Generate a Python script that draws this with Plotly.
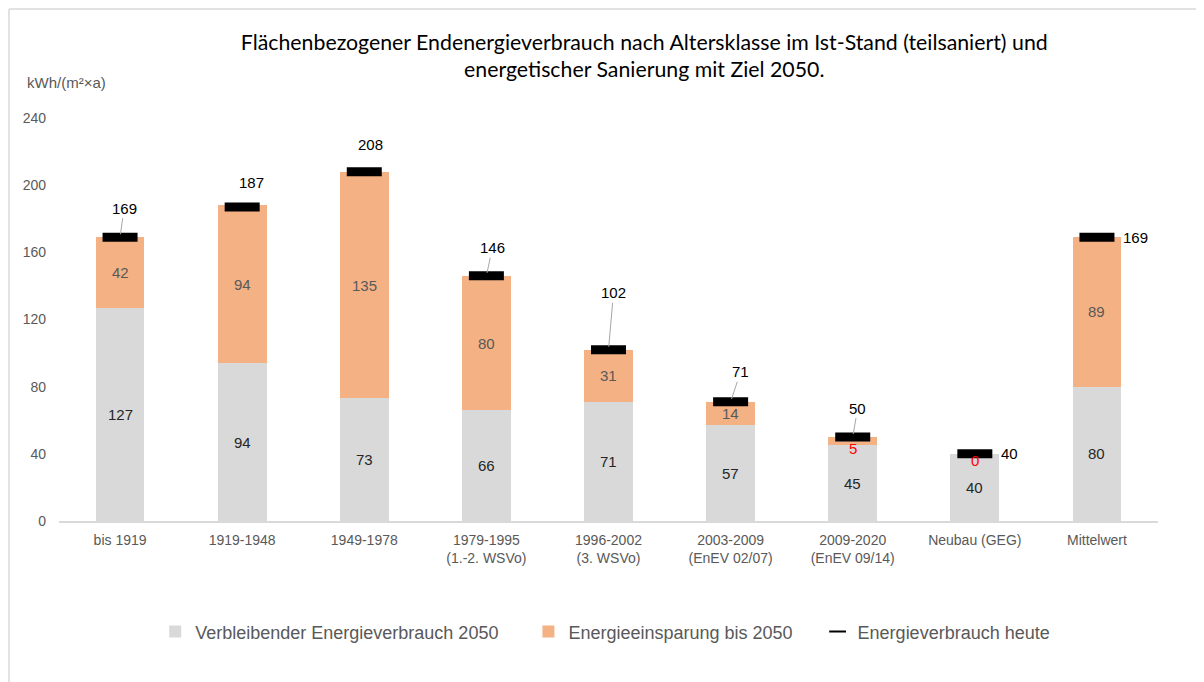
import plotly.graph_objects as go

categories = ["bis 1919", "1919-1948", "1949-1978", "1979-1995<br>(1.-2. WSVo)",
              "1996-2002<br>(3. WSVo)", "2003-2009<br>(EnEV 02/07)",
              "2009-2020<br>(EnEV 09/14)", "Neubau (GEG)", "Mittelwert"]
remaining_2050 = [127, 94, 73, 66, 71, 57, 45, 40, 80]
savings_2050 = [42, 94, 135, 80, 31, 14, 5, 0, 89]
consumption_today = [169, 187, 208, 146, 102, 71, 50, 40, 169]
y_ticks = [0, 40, 80, 120, 160, 200, 240]

FONT = "Liberation Sans, Arial, sans-serif"
GRAY = "#D9D9D9"
ORANGE = "#F4B183"
TXT = "#595959"
NB = "\u00a0"

fig = go.Figure()
fig.add_trace(go.Bar(x=categories, y=remaining_2050,
                     name="Verbleibender Energieverbrauch 2050" + NB * 5,
                     marker=dict(color=GRAY, line=dict(width=0))))
fig.add_trace(go.Bar(x=categories, y=savings_2050,
                     name="Energieeinsparung bis 2050" + NB * 4,
                     marker=dict(color=ORANGE, line=dict(width=0))))
fig.add_trace(go.Scatter(x=categories, y=consumption_today, name="Energieverbrauch heute",
                         mode="markers",
                         marker=dict(symbol="line-ew", size=25, color="black",
                                     line=dict(width=9, color="black"))))

annotations = []
# segment labels
for i, c in enumerate(categories):
    r = remaining_2050[i]
    s = savings_2050[i]
    annotations.append(dict(x=c, y=r / 2, text=str(r), showarrow=False,
                            font=dict(family=FONT, size=15, color="#262626")))
    small = s < 10
    annotations.append(dict(x=c, y=r + s / 2, text=str(s), showarrow=False,
                            yshift=-7 if small else 0,
                            font=dict(family=FONT, size=15, color="#FF0000" if small else TXT)))

# total labels
label_offsets = [(4, -29, True), (9, -25, False), (6, -27, False), (6, -28, True),
                 (5, -57, True), (10, -30, True), (5, -29, True), None, None]
for i, c in enumerate(categories):
    t = consumption_today[i]
    off = label_offsets[i]
    if off is None:
        annotations.append(dict(x=c, y=t, text=str(t), showarrow=False,
                                xanchor="left", xshift=24,
                                font=dict(family=FONT, size=15, color="#000000")))
    else:
        ax, ay, arrow = off
        if arrow:
            annotations.append(dict(x=c, y=t, text=str(t), showarrow=True,
                                    ax=ax, ay=ay, arrowhead=0, arrowwidth=1,
                                    arrowcolor="#A6A6A6", standoff=3,
                                    font=dict(family=FONT, size=15, color="#000000")))
        else:
            annotations.append(dict(x=c, y=t, text=str(t), showarrow=False,
                                    xshift=ax, yshift=-ay,
                                    font=dict(family=FONT, size=15, color="#000000")))

annotations.append(dict(xref="paper", yref="paper", x=-0.0309, y=1.087, xanchor="left",
                        yanchor="middle", text="kWh/(m²×a)", showarrow=False,
                        font=dict(family=FONT, size=15, color=TXT)))

fig.update_layout(
    width=1196, height=674,
    margin=dict(l=51, r=46, t=110, b=161),
    paper_bgcolor="white", plot_bgcolor="white",
    barmode="stack", bargap=0.6,
    title=dict(text="Flächenbezogener Endenergieverbrauch nach Altersklasse im Ist-Stand (teilsaniert) und<br>energetischer Sanierung mit Ziel 2050.",
               x=0.532, xanchor="center", xref="container",
               y=0.938, yanchor="top", yref="container",
               font=dict(family="Lato, sans-serif", size=21.3, color="#000000")),
    xaxis=dict(showline=True, linecolor=GRAY, linewidth=1.5, ticks="",
               range=[-0.5, len(categories) - 0.5],
               ticklabelstandoff=5,
               tickfont=dict(family=FONT, size=14, color=TXT)),
    yaxis=dict(range=[0, 240], tickvals=y_ticks, showgrid=False, zeroline=False,
               showline=False, ticks="", ticklabelstandoff=12,
               tickfont=dict(family=FONT, size=14, color=TXT)),
    legend=dict(orientation="h", x=0.497, xanchor="center", y=-0.275, yanchor="middle",
                font=dict(family=FONT, size=18, color=TXT), traceorder="normal",
                itemsizing="constant"),
    annotations=annotations,
    shapes=[
        dict(type="line", xref="paper", yref="paper", x0=-0.0455, x1=1.1, y0=1.2705, y1=1.2705,
             line=dict(color=GRAY, width=1.5)),
        dict(type="line", xref="paper", yref="paper", x0=-0.0455, x1=-0.0455, y0=1.2705, y1=-0.45,
             line=dict(color=GRAY, width=1.5)),
    ],
    showlegend=True,
)

fig.write_html("out.html")
